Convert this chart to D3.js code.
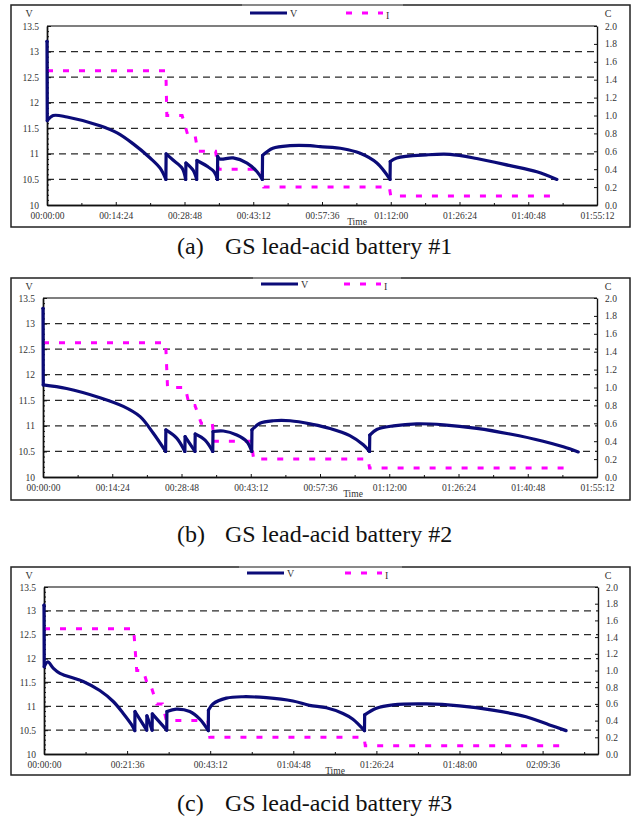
<!DOCTYPE html>
<html>
<head>
<meta charset="utf-8">
<script src="https://cdn.jsdelivr.net/npm/d3@7/dist/d3.min.js"></script>
<style>
  body { margin: 0; background: #fff; }
  svg { display: block; font-family: "Liberation Serif", "Times New Roman", serif; }
</style>
</head>
<body>
<svg width="634" height="820"></svg>
<script>
// time in minutes from start, voltage in V, current in C
var time1 = [0, 0.05, 1.3, 4.2, 11.1, 14.7, 18.0, 21.6, 23.7, 24.9, 24.95, 26.4, 28.3, 29.05, 29.1, 30.6, 31.35, 31.4, 33.5, 35.0, 35.7, 35.75, 36.2, 39.0, 41.9, 44.0, 45.1, 45.15, 47.3, 50.9, 55.1, 57.2, 62.0, 65.6, 69.1, 71.85, 71.9, 73.25, 79.5, 84.4, 90.0, 97.0, 102.6, 106.8];
var volt1 = [13.2, 11.65, 11.75, 11.72, 11.55, 11.41, 11.2, 10.92, 10.72, 10.5, 11.0, 10.88, 10.72, 10.5, 10.82, 10.68, 10.5, 10.87, 10.76, 10.65, 10.5, 10.95, 10.9, 10.92, 10.82, 10.65, 10.5, 10.97, 11.11, 11.16, 11.16, 11.14, 11.1, 11.01, 10.82, 10.5, 10.85, 10.92, 10.98, 10.99, 10.91, 10.77, 10.65, 10.5];
var itime1 = [0, 24.9, 25.1, 28.3, 29.5, 31.0, 31.6, 35.3, 35.9, 45.0, 45.4, 71.7, 72.0, 106.4];
var curr1 = [1.5, 1.5, 1.0, 1.0, 0.78, 0.78, 0.6, 0.6, 0.4, 0.4, 0.2, 0.2, 0.1, 0.1];

var time2 = [0, 0.05, 4.9, 11.85, 16.7, 20.2, 22.9, 25.5, 25.55, 27.8, 29.5, 29.55, 31.6, 31.65, 33.7, 35.3, 35.35, 37.5, 40.3, 42.4, 43.4, 43.45, 45.1, 47.9, 51.4, 56.0, 59.7, 63.8, 66.6, 67.9, 67.95, 69.4, 72.9, 77.7, 83.3, 90.2, 97.1, 104.0, 108.2, 111.3];
var volt2 = [13.3, 11.8, 11.73, 11.55, 11.38, 11.18, 10.86, 10.5, 10.92, 10.76, 10.5, 10.79, 10.5, 10.84, 10.72, 10.5, 10.89, 10.9, 10.82, 10.69, 10.5, 10.92, 11.05, 11.1, 11.1, 11.03, 10.95, 10.81, 10.63, 10.5, 10.82, 10.93, 11.0, 11.04, 11.02, 10.95, 10.84, 10.7, 10.59, 10.49];
var itime2 = [0, 25.5, 25.9, 29.6, 30.4, 31.6, 32.9, 35.2, 35.6, 43.3, 43.8, 67.6, 67.9, 109.6];
var curr2 = [1.5, 1.5, 1.0, 1.0, 0.8, 0.8, 0.6, 0.6, 0.4, 0.4, 0.2, 0.2, 0.1, 0.1];

var time3 = [0, 0.05, 1.0, 2.4, 4.15, 10.2, 14.5, 18.0, 20.6, 22.8, 23.6, 23.65, 26.7, 26.75, 28.1, 28.15, 31.9, 31.95, 34.4, 37.9, 40.5, 42.7, 42.75, 43.9, 47.4, 51.7, 57.8, 64.7, 69.0, 73.4, 77.7, 80.3, 83.3, 83.35, 86.4, 90.7, 99.4, 108.0, 116.6, 125.3, 131.4, 135.7];
var volt3 = [13.12, 11.83, 11.93, 11.8, 11.69, 11.52, 11.33, 11.1, 10.85, 10.61, 10.49, 10.89, 10.5, 10.8, 10.5, 10.84, 10.5, 10.89, 10.94, 10.89, 10.73, 10.49, 10.92, 11.05, 11.17, 11.2, 11.18, 11.11, 11.02, 10.97, 10.85, 10.73, 10.49, 10.82, 10.96, 11.03, 11.05, 11.01, 10.92, 10.78, 10.61, 10.49];
var itime3 = [0, 23.3, 24.1, 25.8, 27.1, 27.9, 29.3, 30.8, 31.8, 42.6, 43.1, 83.2, 83.5, 134.0];
var curr3 = [1.5, 1.5, 1.0, 1.0, 0.8, 0.8, 0.6, 0.6, 0.4, 0.4, 0.2, 0.2, 0.1, 0.1];

var voltTicks = [10, 10.5, 11, 11.5, 12, 12.5, 13, 13.5];
var voltGrid = [10.5, 11, 11.5, 12, 12.5, 13];
var currTicks = [0, 0.2, 0.4, 0.6, 0.8, 1.0, 1.2, 1.4, 1.6, 1.8, 2.0];
var timeTicksA = [0, 14.4, 28.8, 43.2, 57.6, 72, 86.4, 100.8, 115.2];
var timeTicksC = [0, 21.6, 43.2, 64.8, 86.4, 108, 129.6];
var captionTags = ["(a)", "(b)", "(c)"];
var captionTexts = ["GS lead-acid battery #1", "GS lead-acid battery #2", "GS lead-acid battery #3"];

var panels = [
    {bx: 11, by: 5, bw: 619, bh: 222, x0: 47, x1: 597, y0: 26, y1: 205, tmax: 115.2, ticks: timeTicksA,
     t: time1, v: volt1, it: itime1, c: curr1, legV: 250, legI: 346, legY: 13, timeX: 357, capY: 254},
    {bx: 11, by: 278, bw: 619, bh: 222, x0: 43, x1: 597, y0: 298, y1: 477, tmax: 115.2, ticks: timeTicksA,
     t: time2, v: volt2, it: itime2, c: curr2, legV: 261, legI: 344, legY: 284, timeX: 353, capY: 542},
    {bx: 11, by: 567, bw: 619, bh: 208, x0: 44, x1: 598, y0: 587, y1: 754, tmax: 144, ticks: timeTicksC,
     t: time3, v: volt3, it: itime3, c: curr3, legV: 247, legI: 345, legY: 573, timeX: 335, capY: 811}
];

var svg = d3.select("svg");

function fmtTime(m) {
    var s = Math.round(m * 60);
    var h = Math.floor(s / 3600), mm = Math.floor((s % 3600) / 60), ss = s % 60;
    return d3.format("02")(h) + ":" + d3.format("02")(mm) + ":" + d3.format("02")(ss);
}

// split a series where the time step is a jump (almost no time between two points)
function splitSegments(t, v) {
    var segs = [], cur = [];
    t.forEach(function(d, j) {
        if (j > 0 && d - t[j - 1] < 0.1) { segs.push(cur); cur = []; }
        cur.push([d, v[j]]);
    });
    segs.push(cur);
    return segs;
}

panels.forEach(function(p, i) {
    var g = svg.append("g");

    // outer box
    g.append("rect")
        .attr("x", p.bx).attr("y", p.by)
        .attr("width", p.bw).attr("height", p.bh)
        .attr("fill", "none").attr("stroke", "#222").attr("stroke-width", 1.5);
    g.append("line")
        .attr("x1", p.legV - 8).attr("x2", p.legI + 57)
        .attr("y1", p.by).attr("y2", p.by)
        .attr("stroke", "#9a9a9a").attr("stroke-width", 1.5);

    var x = d3.scaleLinear().domain([0, p.tmax]).range([p.x0, p.x1]);
    var yV = d3.scaleLinear().domain([10, 13.5]).range([p.y1, p.y0]);
    var yC = d3.scaleLinear().domain([0, 2]).range([p.y1, p.y0]);

    // grid
    g.selectAll(".grid")
        .data(voltGrid)
        .enter()
        .append("line")
        .attr("x1", p.x0).attr("x2", p.x1)
        .attr("y1", function(d) { return yV(d); })
        .attr("y2", function(d) { return yV(d); })
        .attr("stroke", "#2a2a2a").attr("stroke-width", 1.2)
        .style("stroke-dasharray", "7,5");
    g.append("line")
        .attr("x1", p.x0).attr("x2", p.x1)
        .attr("y1", yV(13.5)).attr("y2", yV(13.5))
        .attr("stroke", "#555").attr("stroke-width", 1.6);

    // axes
    g.append("g")
        .attr("transform", "translate(" + p.x0 + ",0)")
        .call(d3.axisLeft(yV).tickValues(voltTicks).tickSize(-4).tickSizeOuter(0).tickPadding(8)
            .tickFormat(function(d) { return d3.format("")(d); }));
    g.append("g")
        .attr("transform", "translate(" + p.x0 + ",0)")
        .call(d3.axisLeft(yV).tickValues(d3.range(10, 13.51, 0.1)).tickSize(-2).tickSizeOuter(0).tickFormat(""));

    g.append("g")
        .attr("transform", "translate(" + p.x1 + ",0)")
        .call(d3.axisRight(yC).tickValues(currTicks).tickSize(-3).tickSizeOuter(0).tickPadding(8)
            .tickFormat(d3.format(".1f")));

    var step = p.ticks[1] - p.ticks[0];
    g.append("g")
        .attr("transform", "translate(0," + p.y1 + ")")
        .call(d3.axisBottom(x).tickValues(p.ticks).tickSize(-3).tickSizeOuter(0).tickPadding(7)
            .tickFormat(fmtTime));
    g.append("g")
        .attr("transform", "translate(0," + p.y1 + ")")
        .call(d3.axisBottom(x).tickValues(p.ticks.map(function(d) { return d + step / 2; }).filter(function(d) { return d < p.tmax; }))
            .tickSize(-2).tickSizeOuter(0).tickFormat(""));

    g.selectAll("g").attr("font-family", null).attr("font-size", null);
    g.selectAll(".domain").attr("stroke", "#111").attr("stroke-width", 1.4);
    g.selectAll(".tick line").attr("stroke", "#111");
    g.selectAll(".tick text")
        .attr("fill", "#333")
        .style("font-family", "'Liberation Serif', serif")
        .style("font-size", "9.5px");

    // axis titles
    g.append("text").attr("x", p.bx + 18).attr("y", p.by + 12)
        .attr("text-anchor", "middle").attr("fill", "#333").style("font-size", "10px").text("V");
    g.append("text").attr("x", p.bx + 597).attr("y", p.by + 12)
        .attr("text-anchor", "middle").attr("fill", "#333").style("font-size", "10px").text("C");
    g.append("text").attr("x", p.timeX).attr("y", p.y1 + 20)
        .attr("text-anchor", "middle").attr("fill", "#333").style("font-size", "9.5px").text("Time");

    // current
    var lineC = d3.line()
        .x(function(d, j) { return x(p.it[j]); })
        .y(function(d) { return yC(d); });
    g.append("path")
        .attr("d", lineC(p.c))
        .attr("fill", "none").attr("stroke", "#ff00ff").attr("stroke-width", 3)
        .style("stroke-dasharray", "6,10");

    // voltage: smooth pieces joined by straight jumps
    var segs = splitSegments(p.t, p.v);
    var lineV = d3.line()
        .x(function(d) { return x(d[0]); })
        .y(function(d) { return yV(d[1]); })
        .curve(d3.curveCatmullRom.alpha(0.5));
    var jumps = [];
    for (var k = 1; k < segs.length; k++) {
        jumps.push([segs[k - 1][segs[k - 1].length - 1], segs[k][0]]);
    }
    g.selectAll(".seg")
        .data(segs)
        .enter()
        .append("path")
        .attr("d", function(d) { return lineV(d); })
        .attr("fill", "none").attr("stroke", "#0b0b78").attr("stroke-width", 3.2)
        .attr("stroke-linecap", "round").attr("stroke-linejoin", "round");
    g.selectAll(".jump")
        .data(jumps)
        .enter()
        .append("path")
        .attr("d", function(d) { return d3.line().x(function(e) { return x(e[0]); }).y(function(e) { return yV(e[1]); })(d); })
        .attr("fill", "none").attr("stroke", "#0b0b78").attr("stroke-width", 3.2)
        .attr("stroke-linecap", "round");

    // legend
    g.append("line")
        .attr("x1", p.legV).attr("x2", p.legV + 37)
        .attr("y1", p.legY).attr("y2", p.legY)
        .attr("stroke", "#0b0b78").attr("stroke-width", 3);
    g.append("text").attr("x", p.legV + 40).attr("y", p.legY + 4)
        .attr("fill", "#333").style("font-size", "10px").text("V");
    g.append("line")
        .attr("x1", p.legI).attr("x2", p.legI + 37)
        .attr("y1", p.legY).attr("y2", p.legY)
        .attr("stroke", "#ff00ff").attr("stroke-width", 3)
        .style("stroke-dasharray", "6,10");
    g.append("text").attr("x", p.legI + 40).attr("y", p.legY + 6)
        .attr("fill", "#333").style("font-size", "10px").text("I");

    // caption
    svg.append("text").attr("x", 177).attr("y", p.capY)
        .attr("fill", "#111").style("font-size", "24px").text(captionTags[i]);
    svg.append("text").attr("x", 225).attr("y", p.capY)
        .attr("fill", "#111").style("font-size", "24px").text(captionTexts[i]);
});
</script>
</body>
</html>
